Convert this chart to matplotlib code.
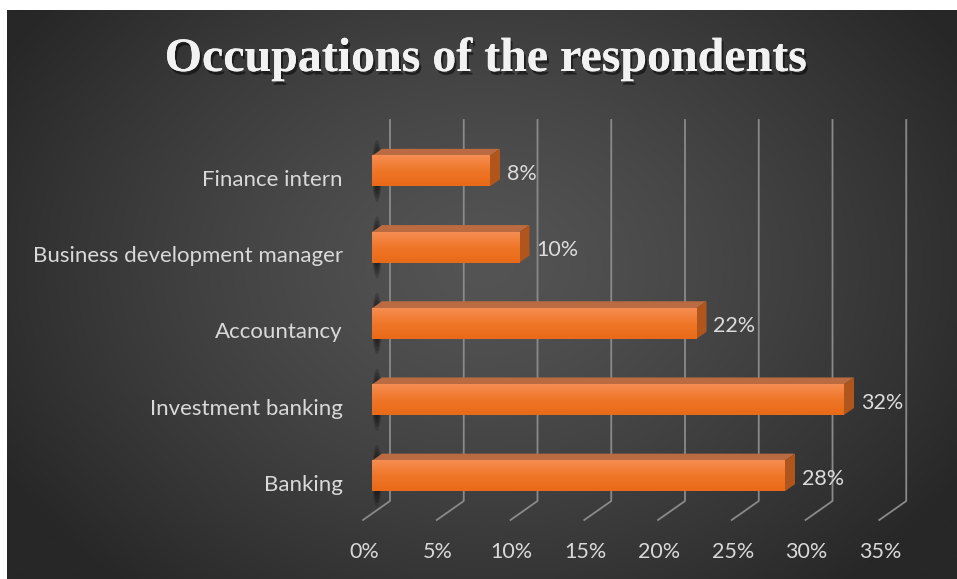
import numpy as np
import matplotlib
matplotlib.use('Agg')
import matplotlib.pyplot as plt
from matplotlib.patches import Polygon, Ellipse
from matplotlib.colors import LinearSegmentedColormap
import matplotlib.patheffects as pe

categories = ['Banking', 'Investment banking', 'Accountancy',
              'Business development manager', 'Finance intern']
shares = [28, 32, 22, 10, 8]
ticks = [0, 5, 10, 15, 20, 25, 30, 35]
tick_labels = ['0%', '5%', '10%', '15%', '20%', '25%', '30%', '35%']
title = 'Occupations of the respondents'

W, H = 957, 579
px = 14.75   # pixels per percent
row = 76.2   # pixels per category

def dx(p):
    return p / px

def dy(p):
    return p / row

fig = plt.figure(figsize=(W / 100, H / 100), dpi=100)
fig.patch.set_facecolor('white')

# dark radial backdrop
bg = fig.add_axes([0, 0, 1, 1])
yy, xx = np.mgrid[0:H, 0:W]
d = np.sqrt(((xx - 480) / 560.0) ** 2 + ((yy - 260) / 430.0) ** 2)
shade = (0x54 - (0x54 - 0x27) * np.clip(d, 0, 1) ** 1.3) / 255.0
bg.imshow(np.dstack([shade] * 3), extent=(7, W, H, 10), aspect='auto',
          interpolation='bilinear')
bg.set_xlim(0, W)
bg.set_ylim(H, 0)
bg.axis('off')

ax = fig.add_axes([372 / W, (H - 514) / H, 35 * px / W, 5 * row / H])
ax.patch.set_alpha(0)

# back wall grid with slanted floor ticks
for t in ticks:
    ax.plot([t + dx(-9), t + dx(18), t + dx(18)],
            [-0.5 - dy(6), -0.5 + dy(13), 4.5 + dy(13)],
            color='#8a8a8a', lw=1.3, clip_on=False, zorder=1)

face = LinearSegmentedColormap.from_list('face', ['#f68d52', '#ef7628', '#e96a18'])
grad = np.linspace(0, 1, 60).reshape(-1, 1)
h = 30.5 / row
ddx, ddy = dx(10), dy(7)

for i, (name, v) in enumerate(zip(categories, shares)):
    # soft shadow behind the bar base
    for k in range(7):
        s = 1 - k * 0.12
        ax.add_patch(Ellipse((dx(5), i), dx(10) * s, dy(62) * s,
                             facecolor='black', edgecolor='none',
                             alpha=0.16, zorder=2, clip_on=False))
    ax.imshow(grad, cmap=face, extent=(0, v, i - h / 2, i + h / 2),
              aspect='auto', origin='upper', zorder=4)
    ax.add_patch(Polygon([(0, i + h / 2), (v, i + h / 2),
                          (v + ddx, i + h / 2 + ddy), (ddx, i + h / 2 + ddy)],
                         closed=True, facecolor='#ba6b42', edgecolor='none', zorder=3))
    ax.add_patch(Polygon([(v, i - h / 2), (v, i + h / 2),
                          (v + ddx, i + h / 2 + ddy), (v + ddx, i - h / 2 + ddy)],
                         closed=True, facecolor='#b0561c', edgecolor='none', zorder=3))
    ax.text(v + dx(17), i - dy(9), f'{v}%', color='#dcdcdc', fontsize=15.5,
            fontfamily='Lato', ha='left', va='baseline', zorder=5)
    ax.text(dx(-29), i - dy(15), name, color='#d9d9d9', fontsize=16,
            fontfamily='Lato', ha='right', va='baseline', zorder=5)

for t, lab in zip(ticks, tick_labels):
    ax.text(t + dx(-8), -0.5 - dy(44), lab, color='#d9d9d9', fontsize=15.5,
            fontfamily='Lato', ha='center', va='baseline')

ax.set_xlim(0, 35)
ax.set_ylim(-0.5, 4.5)
ax.axis('off')

fig.text(485.5 / W, 1 - 71 / H, title, fontfamily='Liberation Serif',
         fontweight='bold', fontsize=34.5, color='#f2f2f2',
         ha='center', va='baseline',
         path_effects=[pe.withSimplePatchShadow(offset=(1.5, -2.5),
                                                shadow_rgbFace='black', alpha=0.5),
                       pe.Normal()])

fig.savefig('out.png', dpi=100)
